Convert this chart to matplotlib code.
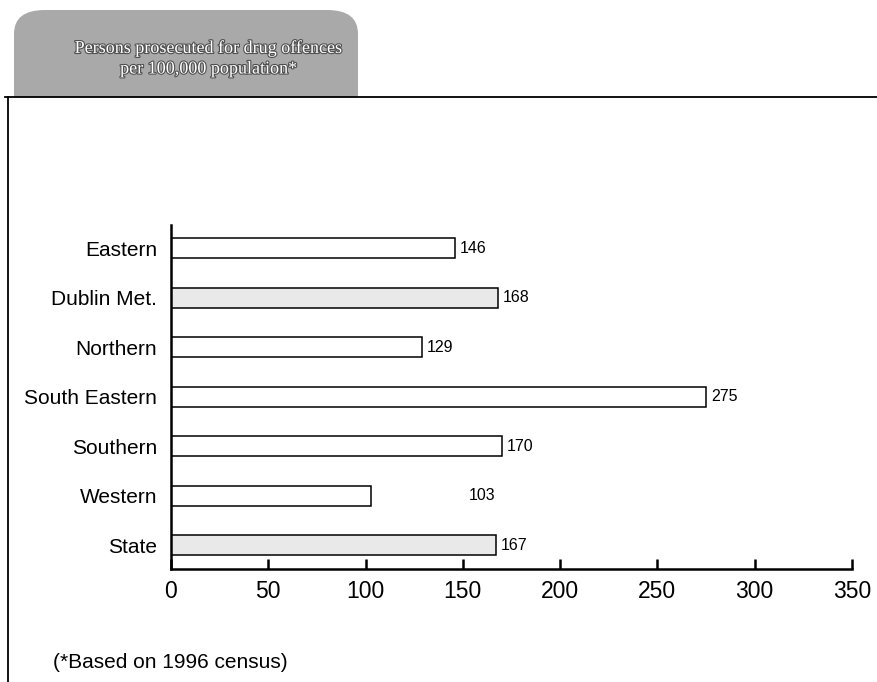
import matplotlib
matplotlib.use("Agg")
import matplotlib.pyplot as plt
from matplotlib.patches import FancyBboxPatch, Rectangle
from matplotlib.lines import Line2D
import matplotlib.patheffects as pe

plt.rcParams["font.family"] = ["Liberation Sans", "DejaVu Sans"]

# data
regions = ["Eastern", "Dublin Met.", "Northern", "South Eastern",
           "Southern", "Western", "State"]
rates = [146, 168, 129, 275, 170, 103, 167]
shaded = ["Dublin Met.", "State"]
x_ticks = [0, 50, 100, 150, 200, 250, 300, 350]
title_lines = ["Persons prosecuted for drug offences", "per 100,000 population*"]
footnote = "(*Based on 1996 census)"

W, H = 878, 682
fig = plt.figure(figsize=(W / 100, H / 100), dpi=100)

# axes placed in pixel terms
ax = fig.add_axes([171 / W, 1 - 569 / H, (852 - 171) / W, (569 - 225) / H])

pos = list(range(len(regions)))
colors = ["#e9e9e9" if r in shaded else "white" for r in regions]
ax.barh(pos, rates, height=0.41, color=colors, edgecolor="black", linewidth=1.1)

# the Western label sits well away from its bar in the original
label_offset = {"Western": 50}
for p, v in zip(pos, rates):
    ax.text(v + label_offset.get(regions[p], 2.5), p, str(v),
            va="center", ha="left", fontsize=11.5)

ax.set_xlim(0, 350)
ax.set_ylim(6.48, -0.47)
ax.set_yticks(pos)
ax.set_yticklabels(regions, fontsize=15)
ax.set_xticks(x_ticks)
ax.set_xticklabels([str(t) for t in x_ticks], fontsize=16.5)
ax.tick_params(axis="y", length=0, pad=10)
ax.tick_params(axis="x", direction="in", length=7, width=1.8, pad=8)
for s in ["top", "right"]:
    ax.spines[s].set_visible(False)
for s in ["left", "bottom"]:
    ax.spines[s].set_linewidth(1.8)

# title banner with rounded top corners (bottom clipped at the frame line)
box = FancyBboxPatch((14 / W, 1 - 125 / H), (358 - 14) / W, (125 - 10) / H,
                     boxstyle="round,pad=0,rounding_size=0.035",
                     transform=fig.transFigure, facecolor="#a9a9a9",
                     edgecolor="none", zorder=1)
clip = Rectangle((0, 1 - 97 / H), 1, 97 / H, transform=fig.transFigure)
box.set_clip_path(clip)
fig.patches.append(box)
for i, line in enumerate(title_lines):
    fig.text(208 / W, 1 - (48 + i * 21) / H, line, ha="center", va="center",
             fontsize=13, color="white", family="Liberation Serif",
             path_effects=[pe.withStroke(linewidth=1.6, foreground="#505050")],
             zorder=3)

# page frame lines
fig.add_artist(Line2D([5 / W, 1], [1 - 97 / H, 1 - 97 / H],
                      transform=fig.transFigure, color="black", linewidth=1.3))
fig.add_artist(Line2D([8 / W, 8 / W], [0, 1 - 97 / H],
                      transform=fig.transFigure, color="black", linewidth=1.3))

fig.text(53 / W, 1 - 662 / H, footnote, ha="left", va="center", fontsize=15)

fig.savefig("out.png", dpi=100)
